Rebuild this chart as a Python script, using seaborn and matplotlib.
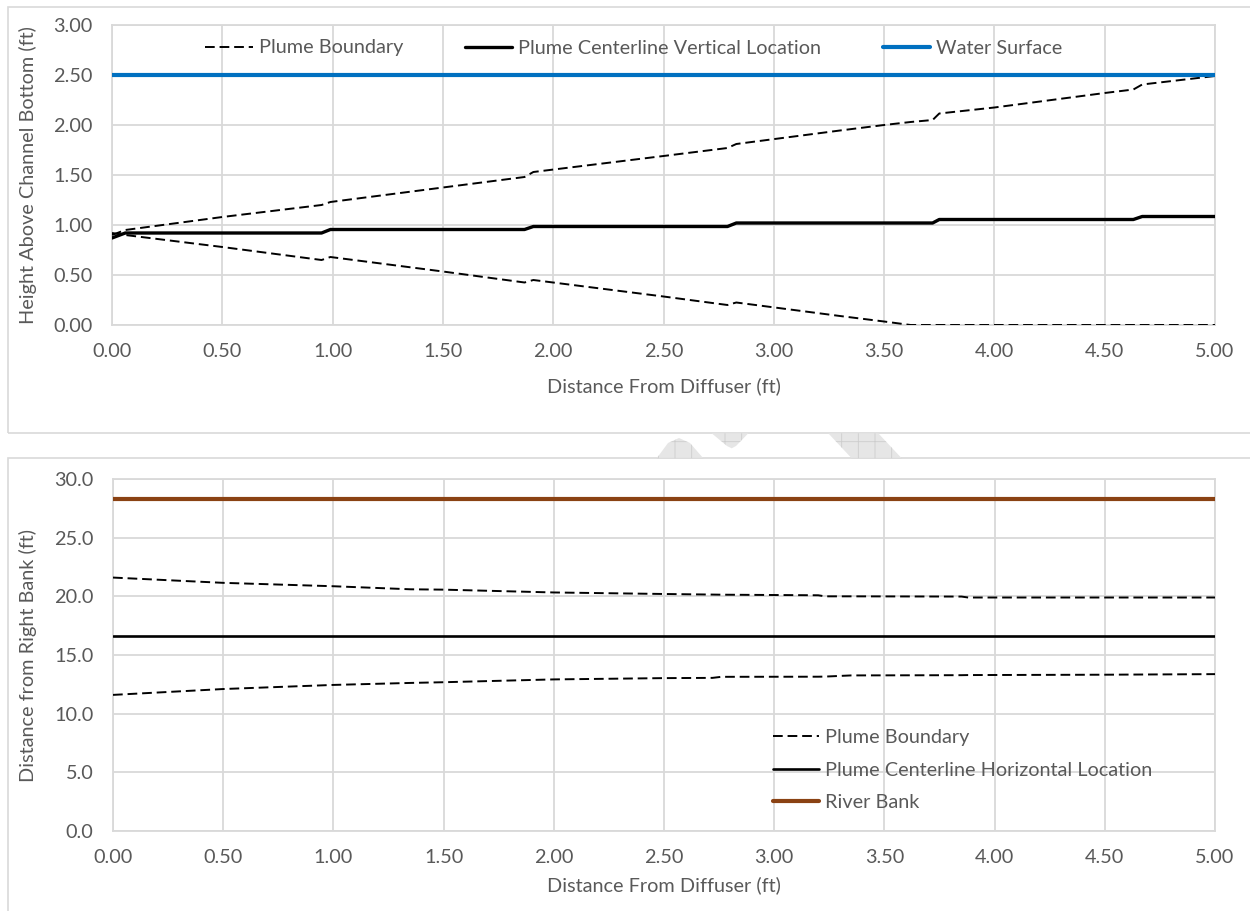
import numpy as np
import pandas as pd
import matplotlib
matplotlib.use("Agg")
import matplotlib.pyplot as plt
from matplotlib.patches import Rectangle, Polygon
from matplotlib.lines import Line2D
import seaborn as sns

# ---- vertical profile (top panel) ----
dist_top = [0.00, 0.06, 0.50, 0.95, 0.99, 1.50, 1.87, 1.91, 2.50, 2.79, 2.83,
            3.30, 3.50, 3.62, 3.72, 3.75, 4.00, 4.50, 4.63, 4.67, 5.00]
centerline_vert = [0.87, 0.92, 0.92, 0.92, 0.955, 0.955, 0.955, 0.985, 0.985, 0.985, 1.02,
                   1.02, 1.02, 1.02, 1.02, 1.055, 1.055, 1.055, 1.055, 1.085, 1.085]
boundary_upper_vert = [0.90, 0.95, 1.08, 1.20, 1.23, 1.375, 1.48, 1.53, 1.69, 1.77, 1.81,
                       1.945, 2.00, 2.03, 2.05, 2.115, 2.175, 2.32, 2.355, 2.405, 2.49]
boundary_lower_vert = [0.92, 0.90, 0.78, 0.65, 0.68, 0.535, 0.425, 0.45, 0.285, 0.20, 0.225,
                       0.09, 0.035, 0.0, 0.0, 0.0, 0.0, 0.0, 0.0, 0.0, 0.0]
water_surface = 2.50

# ---- horizontal profile (bottom panel) ----
dist_bot = [0.00, 0.50, 1.00, 1.35, 1.50, 2.00, 2.50, 2.72, 2.76, 3.20, 3.23,
            3.35, 3.85, 3.88, 4.50, 5.00]
boundary_upper_horiz = [21.6, 21.15, 20.86, 20.6, 20.57, 20.33, 20.2, 20.15, 20.14, 20.09, 20.0,
                        20.0, 19.98, 19.9, 19.9, 19.9]
boundary_lower_horiz = [11.6, 12.1, 12.45, 12.62, 12.68, 12.92, 13.03, 13.05, 13.14, 13.15, 13.16,
                        13.26, 13.28, 13.29, 13.32, 13.37]
centerline_horiz = 16.6
river_bank = 28.3

x_ticks = [0.0, 0.5, 1.0, 1.5, 2.0, 2.5, 3.0, 3.5, 4.0, 4.5, 5.0]
y_ticks_top = [0.0, 0.5, 1.0, 1.5, 2.0, 2.5, 3.0]
y_ticks_bot = [0.0, 5.0, 10.0, 15.0, 20.0, 25.0, 30.0]

sns.set_theme(style="white")
plt.rcParams['font.family'] = ['Lato', 'DejaVu Sans']
plt.rcParams['hatch.color'] = "#CDCDCD"
plt.rcParams['hatch.linewidth'] = 0.6

TXT = "#595959"
GRID = "#D9D9D9"
BLUE = "#0070C0"
BROWN = "#8A4213"
DASH = (0, (5, 2.5))
DLW = 1.4
FS = 14.3

fig = plt.figure(figsize=(12.5, 9.11), dpi=100)
W, H = 1250, 911

def fx(px):
    return px / W

def fy(py):
    return 1 - py / H

# chart frames
fig.patches.append(Rectangle((fx(8), fy(432.5)), 1.2, fy(7) - fy(432.5),
                             transform=fig.transFigure, fill=False,
                             edgecolor=GRID, lw=1.2, zorder=0))
fig.patches.append(Rectangle((fx(8), -0.2), 1.2, fy(458) + 0.2,
                             transform=fig.transFigure, fill=False,
                             edgecolor=GRID, lw=1.2, zorder=0))

# faint page watermark fragments between the two charts
shapes = [
    [(656.7, 458.3), (668, 443), (679, 438), (690, 443), (703.3, 458.3)],
    [(711.7, 433.3), (748.3, 433.3), (736, 446), (731.7, 448.3), (727, 446)],
    [(828.3, 433.3), (878.3, 433.3), (901.7, 458.3), (851.7, 458.3)],
]
for pts in shapes:
    fig.patches.append(Polygon([(fx(a), fy(b)) for a, b in pts], closed=True,
                               transform=fig.transFigure, facecolor="#E6E6E6",
                               edgecolor="#CDCDCD", hatch="+", lw=0, zorder=0))

ax1 = fig.add_axes([fx(112), fy(325), fx(1215) - fx(112), fy(25) - fy(325)])
ax2 = fig.add_axes([fx(113), fy(831), fx(1215) - fx(113), fy(479) - fy(831)])

# top panel
sns.lineplot(x=dist_top, y=boundary_upper_vert, ax=ax1, color="black", lw=DLW,
             linestyle=DASH, zorder=3)
sns.lineplot(x=dist_top, y=boundary_lower_vert, ax=ax1, color="black", lw=DLW,
             linestyle=DASH, zorder=3)
sns.lineplot(x=dist_top, y=centerline_vert, ax=ax1, color="black", lw=2.4, zorder=4,
             solid_capstyle="round")
sns.lineplot(x=[dist_top[0], dist_top[-1]], y=[water_surface, water_surface], ax=ax1,
             color=BLUE, lw=3.0, zorder=5, solid_capstyle="round")

# bottom panel
sns.lineplot(x=dist_bot, y=boundary_upper_horiz, ax=ax2, color="black", lw=DLW,
             linestyle=DASH, zorder=3)
sns.lineplot(x=dist_bot, y=boundary_lower_horiz, ax=ax2, color="black", lw=DLW,
             linestyle=DASH, zorder=3)
sns.lineplot(x=[dist_bot[0], dist_bot[-1]], y=[centerline_horiz, centerline_horiz], ax=ax2,
             color="black", lw=1.9, zorder=4)
sns.lineplot(x=[dist_bot[0], dist_bot[-1]], y=[river_bank, river_bank], ax=ax2,
             color=BROWN, lw=3.0, zorder=5, solid_capstyle="round")

for ax, yt, yfmt in [(ax1, y_ticks_top, "{:.2f}"), (ax2, y_ticks_bot, "{:.1f}")]:
    ax.set_xlim(0, 5)
    ax.set_ylim(yt[0], yt[-1])
    ax.set_xticks(x_ticks)
    ax.set_xticklabels(["{:.2f}".format(v) for v in x_ticks])
    ax.set_yticks(yt)
    ax.set_yticklabels([yfmt.format(v) for v in yt])
    ax.grid(True, color=GRID, lw=1.3)
    ax.set_axisbelow(True)
    for s in ax.spines.values():
        s.set_color(GRID)
        s.set_linewidth(1.3)
    ax.tick_params(axis="x", length=0, pad=13, labelsize=FS, labelcolor=TXT)
    ax.tick_params(axis="y", length=0, pad=14, labelsize=FS, labelcolor=TXT)
    ax.set_xlabel("Distance From Diffuser (ft)", fontsize=FS, color=TXT)
    ax.set_facecolor("white")

ax1.set_ylabel("Height Above Channel Bottom (ft)", fontsize=FS, color=TXT)
ax2.set_ylabel("Distance from Right Bank (ft)", fontsize=FS, color=TXT)
ax1.yaxis.set_label_coords((37 - 112) / 1103, 0.5)
ax2.yaxis.set_label_coords((37 - 113) / 1102, 0.5)
ax1.xaxis.set_label_coords(0.5, (325 - 377) / 300)
ax2.xaxis.set_label_coords(0.5, (831 - 876) / 352)

# legends
h_dash = Line2D([], [], color="black", lw=DLW, linestyle=DASH)
h_cv = Line2D([], [], color="black", lw=2.4, solid_capstyle="round")
h_ws = Line2D([], [], color=BLUE, lw=3.0, solid_capstyle="round")
leg1 = ax1.legend([h_dash, h_cv, h_ws],
                  ["Plume Boundary", "Plume Centerline Vertical Location", "Water Surface"],
                  ncol=3, frameon=False, loc="center left",
                  bbox_to_anchor=(fx(205), fy(48)), bbox_transform=fig.transFigure,
                  fontsize=FS, handlelength=2.4, handletextpad=0.3, columnspacing=3.1,
                  borderpad=0, borderaxespad=0)
for t in leg1.get_texts():
    t.set_color(TXT)

h_ch = Line2D([], [], color="black", lw=1.9)
h_rb = Line2D([], [], color=BROWN, lw=3.0, solid_capstyle="round")
leg2 = ax2.legend([h_dash, h_ch, h_rb],
                  ["Plume Boundary", "Plume Centerline Horizontal Location", "River Bank"],
                  ncol=1, frameon=False, loc="center left",
                  bbox_to_anchor=(fx(773), fy(770)), bbox_transform=fig.transFigure,
                  fontsize=FS, handlelength=2.3, handletextpad=0.3, labelspacing=0.8,
                  borderpad=0, borderaxespad=0)
for t in leg2.get_texts():
    t.set_color(TXT)

fig.savefig("out.png", dpi=100, facecolor="white")
